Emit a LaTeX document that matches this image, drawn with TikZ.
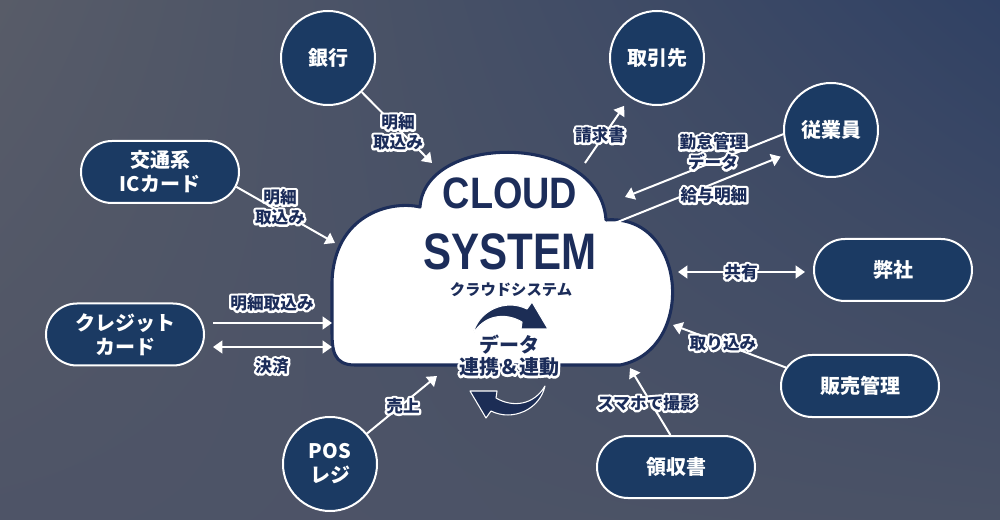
\documentclass[tikz,border=0pt]{standalone}
\usepackage{fontspec}
\usepackage{graphicx}
\usetikzlibrary{arrows.meta,shapes.misc,shadings}
\newfontfamily\jp{Noto Sans CJK JP}
\newfontfamily\cond{Liberation Sans}
\definecolor{nodeblue}{HTML}{1B3A63}
\definecolor{navytxt}{HTML}{1C2D5A}
\definecolor{cloudline}{HTML}{1D2E5A}
\definecolor{arrownavy}{HTML}{1C2D55}
\definecolor{bgUL}{HTML}{585C68}
\definecolor{bgUR}{HTML}{304164}
\definecolor{bgLL}{HTML}{4E5467}
\definecolor{bgLR}{HTML}{4A5266}
\newcommand\halo[1]{\leavevmode\rlap{\color{white}\special{pdf:literal direct 1 1 1 RG 3.4 w 1 j 2 Tr}#1\special{pdf:literal direct 0 Tr}}#1}
\tikzset{
  bubble/.style={circle, fill=nodeblue, draw=white, line width=1.5pt, minimum size=70.5pt, inner sep=0pt,
    text=white, align=center, font=\jp\bfseries\fontsize{15}{18}\selectfont},
  pill/.style={rounded rectangle, fill=nodeblue, draw=white, line width=1.5pt, minimum width=118.5pt,
    minimum height=46.5pt, inner sep=0pt, text=white, align=center, font=\jp\bfseries\fontsize{15}{18}\selectfont},
  conn/.style={draw=white, line width=1.5pt, -{Triangle[length=7pt,width=9.5pt]}},
  conn2/.style={draw=white, line width=1.5pt, {Triangle[length=7pt,width=9.5pt]}-{Triangle[length=7pt,width=9.5pt]}},
  lbl/.style={text=navytxt, inner sep=0pt, align=center, font=\jp\bfseries\fontsize{12.5}{15}\selectfont},
  bigtxt/.style={text=navytxt, inner sep=0pt, align=center, font=\jp\bfseries\fontsize{15}{18}\selectfont},
  curvy/.style={fill=arrownavy, draw=white, line width=0.8pt, line join=round}
}
\begin{document}
\begin{tikzpicture}[x=0.75pt,y=-0.75pt]
\useasboundingbox (0,0) rectangle (1000,520);
\shade[upper left=bgUL, upper right=bgUR, lower left=bgLL, lower right=bgLR] (0,0) rectangle (1000,520);

% cloud
\filldraw[fill=white, draw=cloudline, line width=2.3pt, line join=round]
  (420,207) .. controls (425,132) and (600,132) .. (606,220)
  .. controls (687,213) and (697,350) .. (620,365)
  -- (355,365) .. controls (333,365) and (332,350) .. (332,330)
  -- (332,282) .. controls (334,215) and (390,200) .. (420,207) -- cycle;

\node[text=navytxt, inner sep=0pt, font=\cond\bfseries\fontsize{33}{33}\selectfont] (cloudA) at (510,193) {\scalebox{0.86}[1]{CLOUD}};
\node[text=navytxt, inner sep=0pt, font=\cond\bfseries\fontsize{38.5}{38.5}\selectfont] (cloudB) at (510,252) {\scalebox{0.82}[1]{SYSTEM}};
\node[text=navytxt, inner sep=0pt, font=\jp\bfseries\fontsize{11.5}{13}\selectfont] (cloudC) at (511,290) {クラウドシステム};

% circular arrows
\path[curvy] (473,334) .. controls (478,311) and (505,298) .. (527,309) -- (532,302) -- (548,329) -- (521,329) -- (522,322)
  .. controls (505,312) and (484,315) .. (473,334) -- cycle;
\path[curvy, rotate around={180:(509,360)}] (473,334) .. controls (478,311) and (505,298) .. (527,309) -- (532,302) -- (548,329) -- (521,329) -- (522,322)
  .. controls (505,312) and (484,315) .. (473,334) -- cycle;

% nodes
\node[bubble] (ginko) at (328,58) {銀行};
\node[bubble] (torihiki) at (657,58) {取引先};
\node[bubble] (jugyoin) at (831,130) {従業員};
\node[bubble] (pos) at (330,464) {POS\\レジ};
\node[pill] (kotsu) at (160,172) {交通系\\ICカード};
\node[pill] (credit) at (125,334.5) {クレジット\\カード};
\node[pill] (heisha) at (893,270) {弊社};
\node[pill] (hanbai) at (860,386) {販売管理};
\node[pill] (ryoshu) at (676,467) {領収書};

% connector end points at the cloud
\coordinate (t1) at (432,163);
\coordinate (t2) at (335,243);
\coordinate (t3a) at (332,323);
\coordinate (t3b) at (332,347);
\coordinate (t4) at (437,376);
\coordinate (t5) at (630,368);
\coordinate (t6) at (673,325);
\coordinate (t7) at (678,272);
\coordinate (t8a) at (625,197);
\coordinate (t8b) at (615,223);
\coordinate (t9) at (585,163);

% connectors
\draw[conn] (ginko) -- (t1);
\draw[conn] (kotsu.-11) -- (t2);
\draw[conn] ([shift={(8,-11.5)}]credit.east) -- (t3a);
\draw[conn2] ([shift={(8,12.5)}]credit.east) -- (t3b);
\draw[conn] (pos) -- (t4);
\draw[conn] (ryoshu.100) -- (t5);
\draw[conn] (hanbai.166) -- (t6);
\draw[conn2] (t7) -- ([shift={(-8,2)}]heisha.west);
\draw[conn] (jugyoin.185) -- (t8a);
\draw[conn, shorten >=6.75pt] (t8b) -- (jugyoin.209);
\draw[conn, shorten >=7.5pt] (t9) -- (torihiki);

% labels
\node[lbl] (l1) at (398,132) {\halo{明細}\\\halo{取込み}};
\node[lbl] (l2) at (280,207) {\halo{明細}\\\halo{取込み}};
\node[lbl] (l3) at (272,303) {\halo{明細取込み}};
\node[lbl] (l4) at (272,366) {\halo{決済}};
\node[lbl] (l5) at (403,406) {\halo{売上}};
\node[lbl] (l6) at (647,403) {\halo{スマホで撮影}};
\node[lbl] (l7) at (723,343) {\halo{取り込み}};
\node[lbl] (l8) at (741,272) {\halo{共有}};
\node[lbl] (l9) at (713,152) {\halo{勤怠管理}\\\halo{データ}};
\node[lbl] (l10) at (714,195) {\halo{給与明細}};
\node[lbl] (l11) at (600,135) {\halo{請求書}};

\node[bigtxt] (data1) at (509,345) {\halo{データ}};
\node[bigtxt] (data2) at (509,367) {\halo{連携＆連動}};
\end{tikzpicture}
\end{document}
